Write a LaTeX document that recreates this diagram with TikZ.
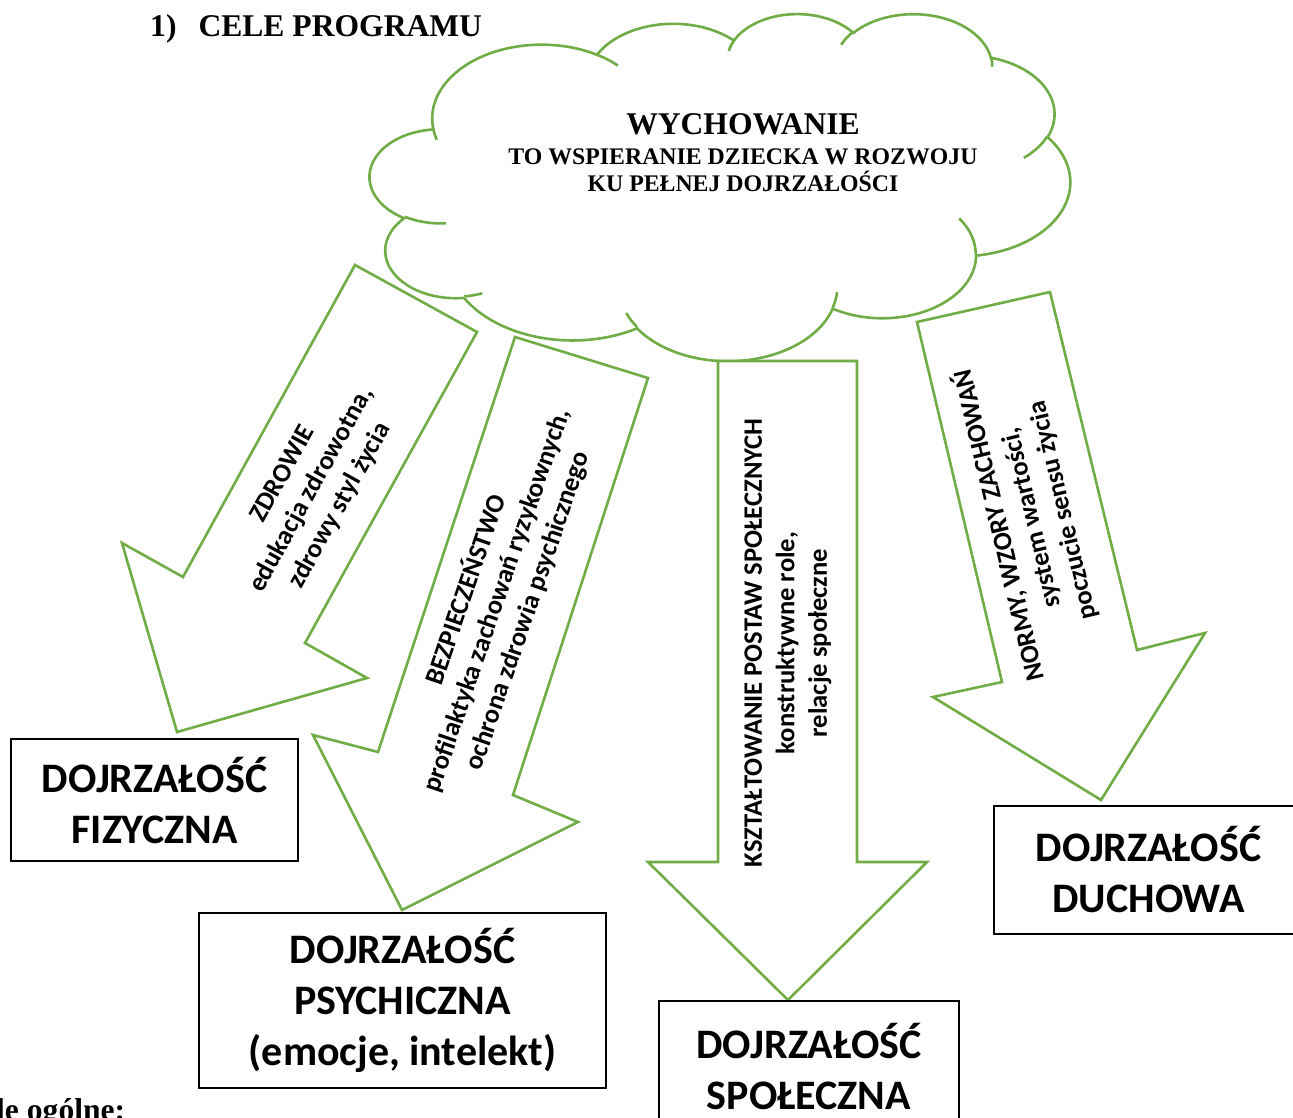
\documentclass[tikz,border=0pt]{standalone}
\usepackage{fontspec}
\setmainfont{Liberation Serif}
\newfontfamily\calib{Carlito}
\definecolor{grn}{HTML}{70AD47}
% DrawingML arcTo (visual angles) -> parametric angles
\newcommand\cldprep[5]{%
  \pgfmathsetmacro\cldtA{atan2((#2)*sin(#4),(#3)*cos(#4))}%
  \pgfmathsetmacro\cldtB{atan2((#2)*sin((#4)+(#5)),(#3)*cos((#4)+(#5)))}%
  \pgfmathsetmacro\cldtB{\cldtA+mod(\cldtB-(\cldtA)+720,360)}%
  \expandafter\xdef\csname cld#1s\endcsname{\cldtA}%
  \expandafter\xdef\csname cld#1e\endcsname{\cldtB}%
}
\cldprep{A}{6.753}{9.190}{-190.4875}{123.7805}
\cldprep{B}{5.333}{7.267}{-144.1024}{89.9452}
\cldprep{C}{4.365}{5.945}{-145.8079}{99.7230}
\cldprep{D}{4.857}{6.595}{-130.9861}{117.2417}
\cldprep{E}{5.333}{7.273}{-78.7089}{109.0269}
\cldprep{F}{6.775}{9.220}{-46.2673}{130.2690}
\cldprep{G}{5.785}{7.867}{0.6250}{114.0333}
\cldprep{H}{6.752}{9.215}{22.4516}{115.1726}
\cldprep{I}{7.720}{10.543}{66.2426}{75.7110}
\cldprep{J}{4.360}{5.918}{-274.9421}{146.7356}
\cldprep{K}{4.345}{5.945}{-246.8285}{152.5189}
\cldprep{a}{4.345}{5.945}{86.7420}{26.4295}
\cldprep{b}{4.360}{5.918}{73.6105}{11.4475}
\cldprep{c}{6.752}{9.215}{137.6242}{14.0811}
\cldprep{d}{6.752}{9.215}{6.4533}{15.9984}
\cldprep{e}{5.785}{7.867}{-43.1}{43.7}
\cldprep{f}{5.333}{7.273}{30.3180}{27.7515}
\cldprep{g}{4.857}{6.595}{-13.7443}{14.8589}
\cldprep{h}{4.857}{6.595}{-149.1815}{18.1954}
\cldprep{i}{4.365}{5.945}{-163.4943}{17.6864}
\cldprep{j}{6.753}{9.190}{-66.7070}{12.3194}
\cldprep{k}{6.753}{9.190}{157.6544}{11.8582}
\tikzset{
  arr/.style={draw=grn, line width=2.6pt, fill=white, line join=miter, miter limit=10},
  cloudline/.style={draw=grn, line width=2.6pt},
  box/.style={draw=black, line width=1.3pt, fill=white, align=center, inner sep=0pt,
    font=\calib\bfseries\fontsize{42}{51}\selectfont},
  arrtxt/.style={align=center, inner sep=0pt, font=\calib\bfseries\fontsize{26.6}{32.5}\selectfont},
  ttl/.style={font=\bfseries\fontsize{31.6}{36}\selectfont, inner sep=0pt},
  subttl/.style={font=\bfseries\fontsize{23.8}{27}\selectfont, inner sep=0pt},
}
\begin{document}
\begin{tikzpicture}[x=1pt,y=-1pt]
\useasboundingbox (0,0) rectangle (1293,1118);
\clip (0,0) rectangle (1293,1118);
\fill[white] (0,0) rectangle (1293,1118);

\node[ttl, anchor=base west] (hdr) at (150,37) {1)\hspace{22pt}CELE PROGRAMU};
\node[ttl, anchor=base west] (ogol) at (-4,1120) {le ogólne:};

% cloud
\begin{scope}[shift={(370,13)}, x=1pt, y=1pt, xscale=16.204, yscale=-8.032]
 \draw[cloudline, fill=white] (3.9,14.37)
   arc[start angle=\cldAs, end angle=\cldAe, x radius=6.753pt, y radius=9.190pt]
   arc[start angle=\cldBs, end angle=\cldBe, x radius=5.333pt, y radius=7.267pt]
   arc[start angle=\cldCs, end angle=\cldCe, x radius=4.365pt, y radius=5.945pt]
   arc[start angle=\cldDs, end angle=\cldDe, x radius=4.857pt, y radius=6.595pt]
   arc[start angle=\cldEs, end angle=\cldEe, x radius=5.333pt, y radius=7.273pt]
   arc[start angle=\cldFs, end angle=\cldFe, x radius=6.775pt, y radius=9.220pt]
   arc[start angle=\cldGs, end angle=\cldGe, x radius=5.785pt, y radius=7.867pt]
   arc[start angle=\cldHs, end angle=\cldHe, x radius=6.752pt, y radius=9.215pt]
   arc[start angle=\cldIs, end angle=\cldIe, x radius=7.720pt, y radius=10.543pt]
   arc[start angle=\cldJs, end angle=\cldJe, x radius=4.360pt, y radius=5.918pt]
   arc[start angle=\cldKs, end angle=\cldKe, x radius=4.345pt, y radius=5.945pt]
   -- cycle;
 \draw[cloudline]
   (4.693,26.177) arc[start angle=\cldas, end angle=\cldae, x radius=4.345pt, y radius=5.945pt]
   (6.928,34.899) arc[start angle=\cldbs, end angle=\cldbe, x radius=4.360pt, y radius=5.918pt]
   (16.478,39.090) arc[start angle=\cldcs, end angle=\cldce, x radius=6.752pt, y radius=9.215pt]
   (28.827,34.751) arc[start angle=\cldds, end angle=\cldde, x radius=6.752pt, y radius=9.215pt]
   (36.361,25.566) arc[start angle=\cldes, end angle=\cldee, x radius=5.785pt, y radius=7.867pt]
   (41.798,15.354) arc[start angle=\cldfs, end angle=\cldfe, x radius=5.333pt, y radius=7.273pt]
   (38.324,5.426) arc[start angle=\cldgs, end angle=\cldge, x radius=4.857pt, y radius=6.595pt]
   (29.078,3.952) arc[start angle=\cldhs, end angle=\cldhe, x radius=4.857pt, y radius=6.595pt]
   (22.141,4.720) arc[start angle=\cldis, end angle=\cldie, x radius=4.365pt, y radius=5.945pt]
   (14.000,5.192) arc[start angle=\cldjs, end angle=\cldje, x radius=6.753pt, y radius=9.190pt]
   (4.127,15.789) arc[start angle=\cldks, end angle=\cldke, x radius=6.753pt, y radius=9.190pt];
\end{scope}

\node[ttl, anchor=base] (wych) at (743,134.5) {WYCHOWANIE};
\node[subttl, anchor=base] (wych2) at (743,165) {TO WSPIERANIE DZIECKA W ROZWOJU};
\node[subttl, anchor=base] (wych3) at (743,192) {KU PEŁNEJ DOJRZAŁOŚCI};

% arrows
\draw[arr] (355,265) -- (477,332) -- (305,643) -- (367,678) -- (177,732) -- (122,543) -- (183,577) -- cycle;
\draw[arr] (515,337) -- (648,378) -- (513,795) -- (578,822) -- (402,910) -- (313,735) -- (378,752) -- cycle;
\draw[arr] (718,361) -- (857,361) -- (857,862) -- (927,862) -- (788,1000) -- (648,862) -- (718,862) -- cycle;
\draw[arr] (917,322) -- (1050,292) -- (1137,650) -- (1205,633) -- (1101,800) -- (933,697) -- (1002,682) -- cycle;

\node[arrtxt, rotate=61.1] (tzdr) at (312,490) {ZDROWIE\\edukacja zdrowotna,\\zdrowy styl życia};
\node[arrtxt, rotate=71] (tbez) at (496,600) {BEZPIECZEŃSTWO\\profilaktyka zachowań ryzykownych,\\ochrona zdrowia psychicznego};
\node[arrtxt, rotate=90] (tksz) at (788,643) {KSZTAŁTOWANIE POSTAW SPOŁECZNYCH\\konstruktywne role,\\relacje społeczne};
\node[arrtxt, rotate=103.4] (tnor) at (1030,518) {NORMY, WZORY ZACHOWAŃ\\system wartości,\\poczucie sensu życia};

% boxes
\node[box, minimum width=287pt, minimum height=122pt] (fiz) at (154.5,800) {DOJRZAŁOŚĆ\\FIZYCZNA};
\node[box, minimum width=407pt, minimum height=175pt] (psy) at (402.5,1000.5) {DOJRZAŁOŚĆ\\PSYCHICZNA\\(emocje, intelekt)};
\node[box, minimum width=300pt, minimum height=130pt] (spo) at (809,1066) {DOJRZAŁOŚĆ\\SPOŁECZNA};
\node[box, minimum width=309pt, minimum height=128pt] (duc) at (1148.5,870) {DOJRZAŁOŚĆ\\DUCHOWA};
\end{tikzpicture}
\end{document}
